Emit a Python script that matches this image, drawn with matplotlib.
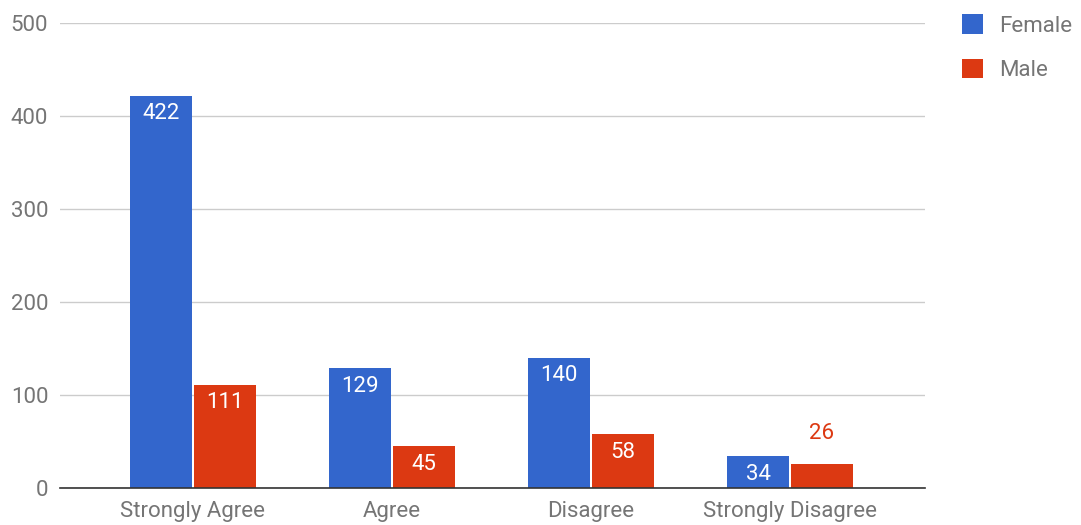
import matplotlib.pyplot as plt
import numpy as np

categories = ['Strongly Agree', 'Agree', 'Disagree', 'Strongly Disagree']
female = [422, 129, 140, 34]
male = [111, 45, 58, 26]
series_names = ['Female', 'Male']
yticks = [0, 100, 200, 300, 400, 500]

blue = '#3366cc'
red = '#dc3912'
grey_text = '#757575'

plt.rcParams['font.family'] = ['Roboto', 'DejaVu Sans']

fig = plt.figure(figsize=(10.81, 5.25), dpi=100)
ax = fig.add_axes([60 / 1081, 37 / 525, 865 / 1081, 465 / 525])

x = np.arange(len(categories))
w = 0.31
off = 0.16
bars_f = ax.bar(x - off, female, width=w, color=blue, label=series_names[0], zorder=3)
bars_m = ax.bar(x + off, male, width=w, color=red, label=series_names[1], zorder=3)

# value labels: inside the top of the bar, or above it if the bar is too short
for bars, vals, col in [(bars_f, female, blue), (bars_m, male, red)]:
    for b, v in zip(bars, vals):
        cx = b.get_x() + b.get_width() / 2
        if v >= 30:
            ax.annotate(str(v), (cx, v), xytext=(0, -13), textcoords='offset points',
                        ha='center', va='center', color='white', fontsize=16, zorder=4)
        else:
            ax.annotate(str(v), (cx, v), xytext=(0, 22), textcoords='offset points',
                        ha='center', va='center', color=col, fontsize=16, zorder=4)

ax.set_xlim(-0.668, 3.678)
ax.set_ylim(0, 500)
ax.set_yticks(yticks)
ax.set_xticks(x)
ax.set_xticklabels(categories)
ax.tick_params(axis='both', length=0, labelsize=16, labelcolor=grey_text)
ax.tick_params(axis='y', pad=8.5)
ax.tick_params(axis='x', pad=9.5)

ax.grid(axis='y', color='#cccccc', linewidth=1, zorder=0)
for s in ['top', 'right', 'left']:
    ax.spines[s].set_visible(False)
ax.spines['bottom'].set_color('#333333')
ax.spines['bottom'].set_linewidth(1.2)
ax.spines['bottom'].set_zorder(5)

leg = fig.legend(loc='upper left', bbox_to_anchor=(949 / 1081, 1 - 1 / 525),
                 frameon=False, fontsize=16, handlelength=0.95, handleheight=0.95,
                 handletextpad=0.7, labelspacing=1.0, borderpad=0.1)
for t in leg.get_texts():
    t.set_color(grey_text)

fig.savefig('out.png', dpi=100)
